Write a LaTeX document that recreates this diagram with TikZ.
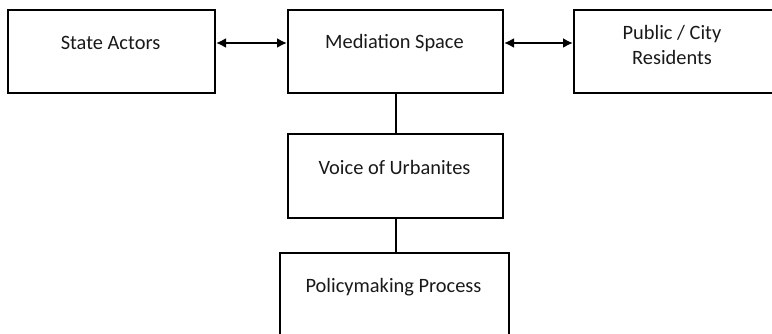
\documentclass[tikz,border=0pt]{standalone}
\usepackage{fontspec}
\setmainfont{Carlito}
\usetikzlibrary{arrows.meta}
\begin{document}
\begin{tikzpicture}[x=1pt,y=-1pt,
  box/.style={draw=black, line width=2pt, rectangle, inner sep=0pt, anchor=north west},
  txt/.style={font=\fontsize{20.4}{25}\selectfont, text=black!90, align=center, inner sep=0pt},
  link/.style={line width=2pt},
  biarrow/.style={line width=2pt, {Latex[length=10pt,width=10pt]}-{Latex[length=10pt,width=10pt]}}]
\useasboundingbox (0,0) rectangle (772,334);
\begin{scope}
\clip (0,0) rectangle (772,334);
\node[box, minimum width=207pt, minimum height=83pt] (sa) at (7,9) {};
\node[box, minimum width=215pt, minimum height=83pt] (ms) at (287,9) {};
\node[box, minimum width=205pt, minimum height=83pt] (pc) at (573,9) {};
\node[box, minimum width=215pt, minimum height=84pt] (vu) at (287,133) {};
\node[box, minimum width=229pt, minimum height=100pt] (pp) at (279,252) {};
\end{scope}
\node[txt] (sat) at (110.5,43) {State Actors};
\node[txt] (mst) at (394.5,43) {Mediation Space};
\node[txt] (pct) at (672,44.5) {Public / City\\Residents};
\node[txt] (vut) at (394.5,167) {Voice of Urbanites};
\node[txt] (ppt) at (393.5,287) {Policymaking Process};
\draw[biarrow] (sa.east |- sat) -- (ms.west |- sat);
\draw[biarrow] (ms.east |- mst) -- (pc.west |- mst);
\draw[link] (ms.south) -- (vu.north);
\draw[link] (vu.south) -- (pp.north -| vu.south);
\end{tikzpicture}
\end{document}
